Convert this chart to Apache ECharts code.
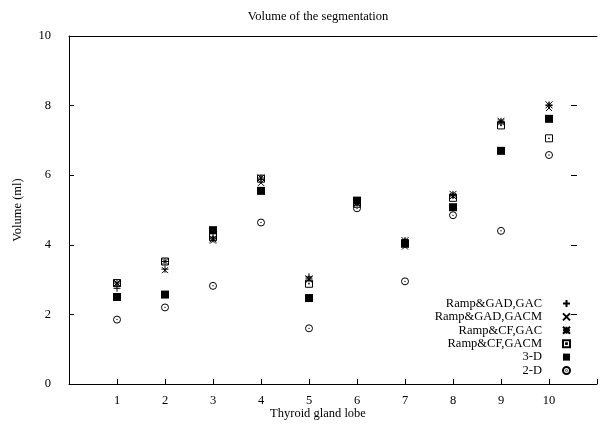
<!DOCTYPE html>
<html>
<head>
<meta charset="utf-8">
<script src="https://cdn.jsdelivr.net/npm/echarts@6/dist/echarts.min.js"></script>
<style>html,body{margin:0;padding:0;background:#fff}#c{width:600px;height:430px}</style>
</head>
<body>
<div id="c"></div>
<script>
const lobes = [1, 2, 3, 4, 5, 6, 7, 8, 9, 10];
const seriesNames = ['Ramp&GAD,GAC', 'Ramp&GAD,GACM', 'Ramp&CF,GAC', 'Ramp&CF,GACM', '3-D', '2-D'];
const gadGac   = [2.75, 3.30, 4.22, 5.88, 3.08, 5.22, 4.10, 5.42, 7.52, 8.00];
const gadGacm  = [2.88, 3.27, 4.12, 5.78, 3.00, 5.20, 3.95, 5.40, 7.52, 7.93];
const cfGac    = [2.90, 3.52, 4.17, 5.92, 3.02, 5.20, 4.12, 5.45, 7.55, 8.02];
const cfGacm   = [2.90, 3.52, 4.22, 5.90, 2.88, 5.18, 4.05, 5.35, 7.43, 7.06];
const threeD   = [2.50, 2.57, 4.42, 5.55, 2.47, 5.27, 4.03, 5.08, 6.70, 7.62];
const twoD     = [1.85, 2.20, 2.82, 4.64, 1.60, 5.05, 2.95, 4.85, 4.40, 6.58];
const yTicks = [0, 2, 4, 6, 8, 10];

const FONT = 'Liberation Serif';
const values = [gadGac, gadGacm, cfGac, cfGacm, threeD, twoD];
const symbols = [
  'path://M5,0L5,10M0,5L10,5',
  'path://M0,0L10,10M10,0L0,10',
  'path://M5,0L5,10M0,5L10,5M0,0L10,10M10,0L0,10',
  'path://M0,0L10,0L10,10L0,10ZM4.5,4.5L5.5,4.5L5.5,5.5L4.5,5.5Z',
  'rect',
  'path://M0,5A5,5,0,1,0,10,5A5,5,0,1,0,0,5ZM4.6,5A0.4,0.4,0,1,0,5.4,5A0.4,0.4,0,1,0,4.6,5Z'
];
const sizes = [7, 6, 7, 7, 8, 7];
const filled = [false, false, false, false, true, false];

const series = seriesNames.map((n, i) => ({
  name: n,
  type: 'scatter',
  symbol: symbols[i],
  symbolSize: sizes[i],
  data: lobes.map((x, j) => [x, values[i][j]]),
  itemStyle: filled[i]
    ? { color: '#000', borderWidth: 0, opacity: 1 }
    : { color: 'rgba(0,0,0,0)', borderColor: '#000', borderWidth: 1, opacity: 1 },
  emphasis: { disabled: true },
  animation: false
}));

const chart = echarts.init(document.getElementById('c'), null, { renderer: 'canvas' });
chart.setOption({
  animation: false,
  backgroundColor: '#fff',
  grid: { left: 69, right: 1, top: 36, bottom: 46 },
  xAxis: [{
    type: 'value', min: 0, max: 11, interval: 1,
    axisLine: { show: true, onZero: false, lineStyle: { color: '#000', width: 1 } },
    axisTick: { show: true, inside: true, length: 5, lineStyle: { color: '#000' } },
    axisLabel: {
      fontFamily: FONT, fontSize: 12.5, color: '#000', margin: 10,
      formatter: v => (lobes.indexOf(v) >= 0 ? String(v) : '')
    },
    splitLine: { show: false }
  }, {
    type: 'value', min: 0, max: 11, interval: 1, position: 'top',
    axisLine: { show: true, onZero: false, lineStyle: { color: '#000', width: 1 } },
    axisTick: { show: false },
    axisLabel: { show: false },
    splitLine: { show: false }
  }],
  yAxis: [{
    type: 'value', min: 0, max: 10, interval: 2,
    axisLine: { show: true, onZero: false, lineStyle: { color: '#000', width: 1 } },
    axisTick: { show: true, inside: true, length: 5, lineStyle: { color: '#000' } },
    axisLabel: {
      fontFamily: FONT, fontSize: 12.5, color: '#000', margin: 18,
      formatter: v => (yTicks.indexOf(v) >= 0 ? String(v) : '')
    },
    splitLine: { show: false }
  }, {
    type: 'value', min: 0, max: 10, interval: 2, position: 'right', offset: -20,
    axisLine: { show: false, onZero: false },
    axisTick: { show: true, inside: true, length: 6, lineStyle: { color: '#000' } },
    axisLabel: { show: false },
    splitLine: { show: false }
  }],
  legend: {
    orient: 'vertical',
    right: 29,
    top: 297,
    align: 'right',
    itemWidth: 7,
    itemHeight: 7,
    itemGap: 0.4,
    padding: 0,
    selectedMode: false,
    textStyle: { fontFamily: FONT, fontSize: 12.5, color: '#000', lineHeight: 13, padding: [0, 16, 0, 0] },
    data: seriesNames
  },
  graphic: [
    { type: 'text', x: 318, y: 10, style: { text: 'Volume of the segmentation', font: '12.5px "Liberation Serif"', fill: '#000', textAlign: 'center' } },
    { type: 'text', x: 318, y: 407, style: { text: 'Thyroid gland lobe', font: '12.5px "Liberation Serif"', fill: '#000', textAlign: 'center' } },
    { type: 'text', x: 11, y: 210, rotation: Math.PI / 2, style: { text: 'Volume (ml)', font: '12.5px "Liberation Serif"', fill: '#000', textAlign: 'center' } }
  ],
  series: series
});
</script>
</body>
</html>
